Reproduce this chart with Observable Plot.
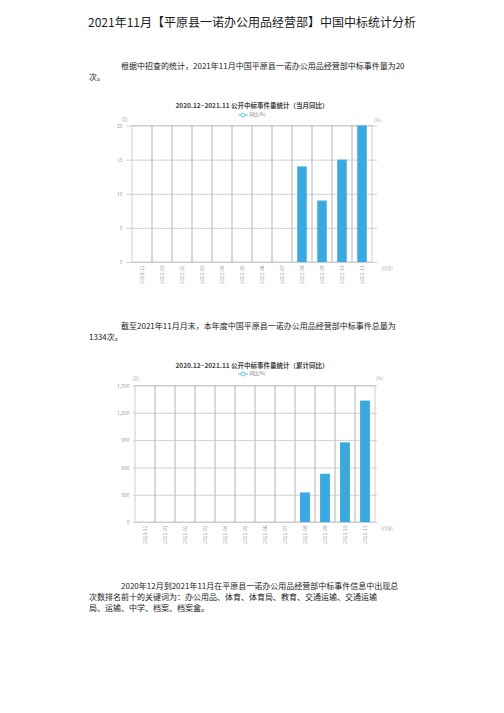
<!DOCTYPE html>
<html><head><meta charset="utf-8">
<script src="https://cdn.jsdelivr.net/npm/d3@7"></script>
<script src="https://cdn.jsdelivr.net/npm/@observablehq/plot@0.6"></script>
<style>
body{margin:0;background:#fff;}
#page{position:relative;width:504px;height:713px;font-family:"Noto Sans CJK SC","Noto Sans",sans-serif;color:#1a1a1a;overflow:hidden;}
.abs{position:absolute;white-space:nowrap;}
.h1{left:0;width:504px;text-align:center;top:14px;font-size:12px;line-height:16px;}
.p{left:105px;font-size:8px;line-height:11px;text-indent:16px;}
.ct{left:0;width:504px;text-align:center;font-size:6.5px;line-height:8px;font-weight:bold;color:#444;}
.lg{left:0;width:504px;text-align:center;font-size:4.5px;line-height:6px;color:#777;}
.lg svg{vertical-align:middle;}
.u{font-size:4.5px;line-height:6px;color:#aaa;}
.chart{position:absolute;}
</style></head>
<body><div id="page">
<div class="abs h1">2021年11月【平原县一诺办公用品经营部】中国中标统计分析</div>
<div class="abs p" style="top:59.5px">根据中招查的统计，2021年11月中国平原县一诺办公用品经营部中标事件量为20<br><span style="margin-left:-16px">次。</span></div>

<div class="abs ct" style="top:101px">2020.12~2021.11 公开中标事件量统计（当月同比）</div>
<div class="abs lg" style="top:111px"><svg width="10" height="6"><line x1="0" y1="3" x2="10" y2="3" stroke="#2ec7c9" stroke-width="0.8"/><circle cx="5" cy="3" r="2" fill="#fff" stroke="#2ec7c9" stroke-width="0.8"/></svg> 同比(%)</div>
<div class="abs u" style="left:121px;top:116px">(次)</div>
<div class="abs u" style="left:374px;top:117px">(%)</div>
<div class="abs u" style="left:381px;top:265px">(月份)</div>
<div class="chart" id="c1" style="left:100px;top:100px"></div>

<div class="abs p" style="top:319.5px">截至2021年11月月末，本年度中国平原县一诺办公用品经营部中标事件总量为<br><span style="margin-left:-16px">1334次。</span></div>

<div class="abs ct" style="top:361px">2020.12~2021.11 公开中标事件量统计（累计同比）</div>
<div class="abs lg" style="top:370px"><svg width="10" height="6"><line x1="0" y1="3" x2="10" y2="3" stroke="#2ec7c9" stroke-width="0.8"/><circle cx="5" cy="3" r="2" fill="#fff" stroke="#2ec7c9" stroke-width="0.8"/></svg> 同比(%)</div>
<div class="abs u" style="left:132px;top:375px">(次)</div>
<div class="abs u" style="left:376px;top:375px">(%)</div>
<div class="abs u" style="left:381px;top:525px">(月份)</div>
<div class="chart" id="c2" style="left:100px;top:360px"></div>

<div class="abs p" style="top:579.5px">2020年12月到2021年11月在平原县一诺办公用品经营部中标事件信息中出现总<br><span style="margin-left:-16px">次数排名前十的关键词为：办公用品、体育、体育局、教育、交通运输、交通运输</span><br><span style="margin-left:-16px">局、运输、中学、档案、档案盒。</span></div>
</div>
<script>
const months = ["2020-12","2021-01","2021-02","2021-03","2021-04","2021-05","2021-06","2021-07","2021-08","2021-09","2021-10","2021-11"];
const monthlyCounts = [0,0,0,0,0,0,0,0,14,9,15,20];
const cumulativeCounts = [0,0,0,0,0,0,0,0,325,530,875,1334];
const monthlyTicks = [0,5,10,15,20];
const cumulativeTicks = [0,300,600,900,1200,1500];

const barColor = "#3aa9df";
const gridColor = "#c4c4c4";

function makeChart(values, ticks, fmt, ml) {
  const data = months.map((m, i) => ({month: m, value: values[i]}));
  const top = ticks[ticks.length - 1];
  const W = 300, mr = 23;
  const bw = (W - ml - mr) / months.length;
  const inset = bw * 0.25;
  return Plot.plot({
    width: W, height: 195,
    marginLeft: ml, marginRight: mr, marginTop: 25.5, marginBottom: 33,
    style: {fontSize: "5px", color: "#a0a0a0", fontFamily: "Noto Sans CJK SC, Noto Sans, sans-serif", background: "transparent"},
    x: {type: "band", domain: months, padding: 0, label: null},
    y: {domain: [0, top], label: null},
    marks: [
      Plot.ruleY(ticks, {y: d => d, stroke: gridColor, strokeWidth: 0.8}),
      Plot.barY(months, {x: d => d, y1: 0, y2: top, fill: "none", stroke: gridColor, strokeWidth: 0.8}),
      Plot.barY(data, {x: "month", y: "value", fill: barColor, insetLeft: inset, insetRight: inset}),
      Plot.axisY({ticks, tickSize: 0, tickPadding: 4, tickFormat: fmt, label: null}),
      Plot.axisX({tickRotate: -90, tickSize: 0, tickPadding: 3, label: null})
    ]
  });
}
document.getElementById("c1").append(makeChart(monthlyCounts, monthlyTicks, d => String(d), 26));
document.getElementById("c2").append(makeChart(cumulativeCounts, cumulativeTicks, d3.format(","), 33));
</script>
</body></html>
